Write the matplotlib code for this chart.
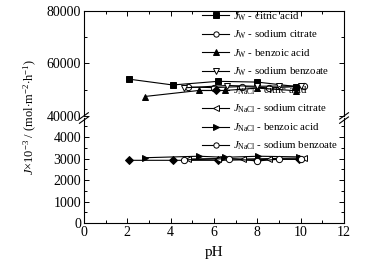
import matplotlib
matplotlib.use("Agg")
import matplotlib.pyplot as plt
from matplotlib.ticker import MultipleLocator

plt.rcParams["font.family"] = ["Liberation Serif", "DejaVu Serif"]
plt.rcParams["mathtext.fontset"] = "custom"
plt.rcParams["mathtext.rm"] = "Liberation Serif"
plt.rcParams["mathtext.it"] = "Liberation Serif:italic"

# ----- data --------------------------------------------------------------
w_citric_ph = [2.1, 4.1, 6.2, 8.0, 9.8]
w_citric = [54000, 51800, 53200, 52900, 51200]
w_nacit_ph = [4.8, 6.0, 7.3, 8.55, 10.15]
w_nacit = [51000, 50800, 51200, 50700, 51300]
w_benz_ph = [2.8, 5.3, 6.5, 8.0, 9.8]
w_benz = [47400, 49700, 49700, 50600, 49600]
w_nabenz_ph = [4.6, 6.6, 8.0, 9.0, 10.0]
w_nabenz = [50700, 51600, 51300, 51400, 51300]

n_citric_ph = [2.1, 4.1, 6.2, 8.0, 9.9]
n_citric = [2920, 2920, 2920, 2950, 2980]
n_nacit_ph = [4.8, 6.2, 7.35, 8.55, 10.15]
n_nacit = [2980, 3000, 2980, 3000, 3030]
n_benz_ph = [2.8, 5.3, 6.5, 8.05, 9.9]
n_benz = [3040, 3110, 3060, 3110, 3080]
n_nabenz_ph = [4.6, 6.7, 8.0, 9.0, 10.0]
n_nabenz = [2940, 3000, 2890, 2970, 2960]

series_w = [
    (w_citric_ph, w_citric, "s", "black", r"$J_{\mathrm{W}}$ - citric acid"),
    (w_nacit_ph, w_nacit, "o", "white", r"$J_{\mathrm{W}}$ - sodium citrate"),
    (w_benz_ph, w_benz, "^", "black", r"$J_{\mathrm{W}}$ - benzoic acid"),
    (w_nabenz_ph, w_nabenz, "v", "white", r"$J_{\mathrm{W}}$ - sodium benzoate"),
]
series_n = [
    (n_citric_ph, n_citric, "D", "black", r"$J_{\mathrm{NaCl}}$ - citric acid"),
    (n_nacit_ph, n_nacit, "<", "white", r"$J_{\mathrm{NaCl}}$ - sodium citrate"),
    (n_benz_ph, n_benz, ">", "black", r"$J_{\mathrm{NaCl}}$ - benzoic acid"),
    (n_nabenz_ph, n_nabenz, "o", "white", r"$J_{\mathrm{NaCl}}$ - sodium benzoate"),
]

# ----- figure -------------------------------------------------------------
L, W = 0.228, 0.707
fig = plt.figure(figsize=(3.68, 2.64), dpi=100)
ax_top = fig.add_axes([L, 0.561, W, 0.397])
ax_bot = fig.add_axes([L, 0.155, W, 0.399], sharex=ax_top)

handles = []
for ax, series in ((ax_top, series_w), (ax_bot, series_n)):
    for x, y, m, fc, lab in series:
        h, = ax.plot(x, y, color="black", lw=0.8, marker=m, ms=4.5,
                     mfc=fc, mec="black", mew=0.7, label=lab)
        handles.append(h)

ax_top.set_ylim(40000, 80000)
ax_top.yaxis.set_major_locator(MultipleLocator(20000))
ax_top.yaxis.set_minor_locator(MultipleLocator(10000))
ax_bot.set_ylim(0, 4900)
ax_bot.yaxis.set_major_locator(MultipleLocator(1000))
ax_bot.yaxis.set_minor_locator(MultipleLocator(500))
ax_bot.set_xlim(0, 12)
ax_bot.xaxis.set_major_locator(MultipleLocator(2))
ax_bot.xaxis.set_minor_locator(MultipleLocator(1))

for ax in (ax_top, ax_bot):
    ax.tick_params(which="both", direction="in", top=True, right=True,
                   labelsize=10, width=0.7, pad=2)
    ax.tick_params(which="major", length=3.5)
    ax.tick_params(which="minor", length=2)
    for s in ax.spines.values():
        s.set_linewidth(0.8)
ax_top.spines["bottom"].set_visible(False)
ax_bot.spines["top"].set_visible(False)
ax_top.tick_params(which="both", bottom=False, labelbottom=False)
ax_bot.tick_params(which="both", top=False)

# break marks on both side spines
for xs in (0, 1):
    for dy in (-0.012, 0.004):
        fig.lines.append(plt.Line2D(
            [L + W * xs - 0.012, L + W * xs + 0.012],
            [0.557 + dy - 0.012, 0.557 + dy + 0.012],
            transform=fig.transFigure, color="black", lw=0.8))

ax_bot.set_xlabel("pH", fontsize=11, labelpad=5)
fig.text(0.083, 0.556, r"$J$$\times$10$^{-3}$ / (mol$\cdot$m$^{-2}$$\cdot$h$^{-1}$)",
         rotation=90, ha="center", va="center", fontsize=9)

fig.legend(handles=handles, loc="upper left", bbox_to_anchor=(0.55, 0.962),
           frameon=False, fontsize=7.8, handlelength=2.5, handletextpad=0.3,
           labelspacing=0.56, borderaxespad=0, borderpad=0, markerscale=0.85)

fig.savefig("out.png", dpi=100)
